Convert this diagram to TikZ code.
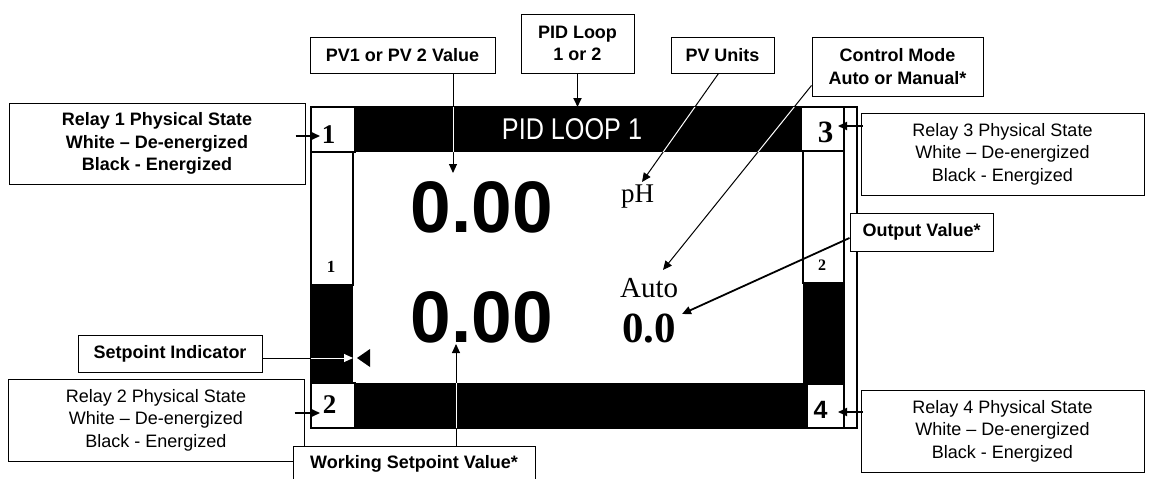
\documentclass[tikz,border=0pt]{standalone}
\usepackage{fontspec}
\usepackage{graphicx}
\setmainfont{Liberation Serif}
\setsansfont{Liberation Sans}
\usetikzlibrary{arrows.meta}

\begin{document}
\begin{tikzpicture}[x=1pt,y=-1pt,>={Triangle[length=9pt,width=8pt]},
    lbl/.style={draw,line width=1pt,fill=white,align=center,inner sep=0pt,
      font=\sffamily\bfseries\fontsize{18}{22.5}\selectfont},
    note/.style={lbl,font=\sffamily\fontsize{18}{22.5}\selectfont},
    bar/.style={fill=black,inner sep=0pt,outer sep=0pt},
    relnum/.style={inner sep=0pt,font=\bfseries\fontsize{#1}{#1}\selectfont},
    big/.style={inner sep=0pt,font=\sffamily\bfseries\fontsize{73}{73}\selectfont},
    rim/.style={line width=1.3pt}]
  \path[use as bounding box,clip] (0,0) rectangle (1149,479);
  \fill[white] (0,0) rectangle (1149,479);

  % display
  \node[bar,minimum width=446,minimum height=45] (topbar) at (578,129.5) {};
  \node[bar,minimum width=452,minimum height=45] (botbar) at (581,405.5) {};
  \fill (311,285) rectangle (353,383);
  \fill (803,283) rectangle (844,384);
  \draw[rim] (311,107) rectangle (857,428);
  \draw[rim] (844,107) -- (844,428);
  \draw[rim] (311,107) rectangle (355,152);
  \draw[rim] (311,152) rectangle (353,285);
  \draw[rim] (311,383) rectangle (355,428);
  \draw[rim] (801,107) rectangle (844,151);
  \draw[rim] (803,151) rectangle (844,283);
  \draw[rim] (807,384) rectangle (844,428);
  \fill (357,358) -- (370,349) -- (370,367) -- cycle;

  \node[relnum=27,anchor=base] (num1) at (328.5,143) {1};
  \node[relnum=27,anchor=base] (num2) at (329.5,413) {2};
  \node[relnum=31,anchor=base] (num3) at (825.5,142) {3};
  \node[relnum=25,anchor=base,font=\sffamily\bfseries\fontsize{25}{25}\selectfont] (num4) at (820.5,418) {4};
  \node[relnum=17,anchor=base] (col1) at (331,272) {1};
  \node[relnum=16,anchor=base] (col2) at (822,270) {2};

  \node[text=white,font=\sffamily\fontsize{30}{30}\selectfont] (looptxt) at (572,129) {\scalebox{0.84}[1]{PID LOOP 1}};
  \node[big,anchor=base] (pvnum) at (482,232) {0.00};
  \node[big,anchor=base] (spnum) at (482,342) {0.00};
  \node[anchor=base west,inner sep=0pt,font=\fontsize{27}{27}\selectfont] (unit) at (621,202) {pH};
  \node[anchor=base west,inner sep=0pt,font=\fontsize{29}{29}\selectfont] (mode) at (620,297) {Auto};
  \node[anchor=base west,inner sep=0pt,font=\bfseries\fontsize{43}{43}\selectfont] (outnum) at (622,342) {0.0};

  % labels
  \node[lbl,minimum width=296,minimum height=81] (relayA) at (157,143.5) {Relay 1 Physical State\\White – De-energized\\Black - Energized};
  \node[note,minimum width=296,minimum height=82] (relayB) at (156,420) {Relay 2 Physical State\\White – De-energized\\Black - Energized};
  \node[note,minimum width=283,minimum height=82] (relayC) at (1002.5,154) {Relay 3 Physical State\\White – De-energized\\Black - Energized};
  \node[note,minimum width=283,minimum height=82] (relayD) at (1002.5,431) {Relay 4 Physical State\\White – De-energized\\Black - Energized};
  \node[lbl,minimum width=185,minimum height=36] (pvval) at (402.5,55) {PV1 or PV 2 Value};
  \node[lbl,minimum width=113,minimum height=59] (pid) at (577.5,43.5) {PID Loop\\1 or 2};
  \node[lbl,minimum width=103,minimum height=36] (pvunit) at (722.5,55) {PV Units};
  \node[lbl,minimum width=171,minimum height=59] (ctrl) at (897.5,66.5) {Control Mode\\Auto or Manual*};
  \node[lbl,minimum width=143,minimum height=38] (outv) at (921.5,232) {Output Value*};
  \node[lbl,minimum width=184,minimum height=37] (setbox) at (170,353.5) {Setpoint Indicator};
  \node[lbl,minimum width=242,minimum height=36] (wsbox) at (414,464) {Working Setpoint Value*};

  \coordinate (tipA) at (320,136);
  \coordinate (tipB) at (320,413);
  \coordinate (tipC) at (838,126);
  \coordinate (tipD) at (838,412);
  \coordinate (pvtip) at (453,173);
  \coordinate (unittip) at (642,182);
  \coordinate (modetip) at (663,270);
  \coordinate (outtip) at (682,314);
  \coordinate (wstip) at (456,344);
  \coordinate (sptip) at (353,358);

  \path[->,line width=1.8pt] ([xshift=-10pt]tipA -| relayA.east) edge (tipA)
        ([xshift=-10pt]tipB -| relayB.east) edge (tipB)
        ([xshift=2pt]tipC -| relayC.west) edge (tipC)
        ([xshift=2pt]tipD -| relayD.west) edge (tipD)
        (pid) edge (pid.south |- topbar.north)
        ([yshift=-6pt]outv.west) edge (outtip);
  \path[->,line width=1pt] (pvtip |- pvval.south) edge (pvtip)
        ([xshift=-4pt]pvunit.south) edge (unittip)
        ([yshift=11pt]ctrl.south west) edge (modetip)
        (wstip |- wsbox.north) edge (wstip)
        (sptip -| setbox.east) edge (sptip);

  % white where the lines cross the black
  \begin{scope}
    \clip (topbar.north west) rectangle (topbar.south east)
          (botbar.north west) rectangle (botbar.south east)
          (311,285) rectangle (353,383);
    \path[->,white,line width=1pt] (pvtip |- pvval.south) edge (pvtip)
          ([xshift=-4pt]pvunit.south) edge (unittip)
          ([yshift=11pt]ctrl.south west) edge (modetip)
          (wstip |- wsbox.north) edge (wstip)
          (sptip -| setbox.east) edge (sptip);
  \end{scope}
\end{tikzpicture}
\end{document}
